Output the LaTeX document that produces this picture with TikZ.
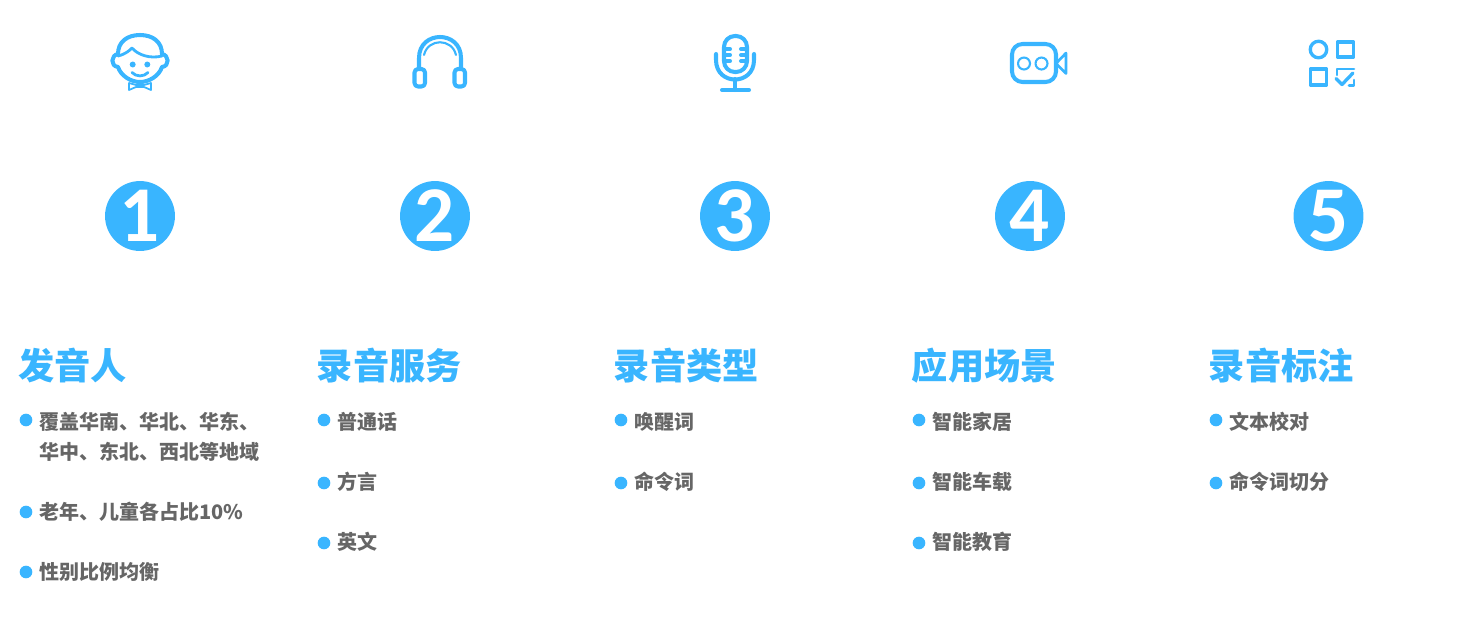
\documentclass[tikz,border=0pt]{standalone}
\usepackage{fontspec}
\newfontfamily\cjk{Noto Sans CJK SC}
\newfontfamily\numfont{Carlito}
\definecolor{skyblue}{HTML}{39B5FF}
\definecolor{itemgray}{HTML}{666666}
\tikzset{
  icon/.style={draw=skyblue,line width=2.3pt,line cap=round,line join=round},
  iconthin/.style={draw=skyblue,line width=1.2pt,line cap=round,line join=round},
  numdisc/.style={circle,fill=skyblue,text=white,minimum size=39.8pt,inner sep=0pt,font=\numfont\bfseries\fontsize{45}{45}\selectfont},
  headline/.style={anchor=west,inner sep=0pt,text=skyblue,font=\cjk\bfseries\fontsize{20.6}{24}\selectfont},
  itemtext/.style={anchor=west,inner sep=0pt,align=left,text=itemgray,font=\cjk\bfseries\fontsize{11.38}{17.07}\selectfont},
  itemdot/.style={fill=skyblue}
}
\begin{document}
\begin{tikzpicture}[x=0.02cm,y=-0.02cm]
\useasboundingbox (0,0) rectangle (1467,633);

% speaker
\draw[icon] (118,54) .. controls (118,42) and (127,35) .. (140,35) .. controls (153,35) and (162,42) .. (162,54);
\draw[icon] (118,54) .. controls (111,55) and (110,66) .. (118,67) .. controls (121,76) and (131,82) .. (140,82) .. controls (149,82) and (159,76) .. (162,67) .. controls (170,66) and (169,55) .. (162,54);
\draw[iconthin,line width=1.6pt] (118,56) .. controls (126,54) and (130,50) .. (132,48) .. controls (138,55) and (150,59) .. (162,56);
\fill[itemdot] (132.7,64.5) circle (1.7pt);
\fill[itemdot] (147.3,64.5) circle (1.7pt);
\draw[iconthin,line width=1.6pt] (132,72.5) .. controls (136,77) and (144,77) .. (148,72.5);
\draw[iconthin,line width=1pt] (129,83) -- (129,90) -- (136,87) -- (144,87) -- (151,90) -- (151,83) -- (144,85) -- (136,85) -- cycle;

% headphones
\draw[icon] (419,68) -- (419,58) .. controls (419,30) and (461,30) .. (461,58) -- (461,68);
\draw[iconthin] (424,55) .. controls (428,38) and (452,38) .. (456,55);
\draw[icon,rounded corners=2pt] (414.5,69) rectangle (425,86.5);
\draw[icon,rounded corners=2pt] (454.5,69) rectangle (465,86.5);

% microphone
\draw[icon,rounded corners=6.2pt] (724,36) rectangle (747,72);
\draw[icon] (724,49) -- (730,49);
\draw[icon] (724,55) -- (730,55);
\draw[icon] (724,61) -- (730,61);
\draw[icon] (741,49) -- (747,49);
\draw[icon] (741,55) -- (747,55);
\draw[icon] (741,61) -- (747,61);
\draw[icon] (716,54) -- (716,60) .. controls (716,86) and (754,86) .. (754,60) -- (754,54);
\draw[icon] (735,79) -- (735,90);
\draw[icon] (722,90) -- (749,90);

% camera
\draw[icon,rounded corners=6pt] (1012,44) rectangle (1056,82);
\draw[iconthin] (1024,63.5) circle (3.4pt);
\draw[iconthin] (1041.5,63.5) circle (3.4pt);
\draw[iconthin,line width=1.5pt] (1056,63.5) -- (1066,53) -- (1066,73.5) -- cycle;

% tags
\draw[icon,line width=1.9pt,line cap=butt] (1318.5,49.5) circle (4.7pt);
\draw[icon,line width=1.9pt,line cap=butt] (1337.5,42) rectangle (1353.5,57);
\draw[icon,line width=1.9pt,line cap=butt] (1310.5,69) rectangle (1326.5,85);
\draw[iconthin,line width=1.5pt] (1337,75) -- (1337,69) -- (1354,69);
\draw[iconthin,line width=1.5pt] (1354,80) -- (1354,85.5) -- (1349,85.5);
\draw[icon,line width=1.9pt] (1336,78.5) -- (1342,84.5) -- (1353,73);

\node[numdisc] (num1) at (140,216) {1};
\node[numdisc] (num2) at (435,216) {2};
\node[numdisc] (num3) at (735,216) {3};
\node[numdisc] (num4) at (1030,216) {4};
\node[numdisc] (num5) at (1328.5,216) {5};

\node[headline] (title1) at (18,366) {发音人};
\node[headline] (title2) at (316.5,366) {录音服务};
\node[headline] (title3) at (613.5,366) {录音类型};
\node[headline] (title4) at (911.5,366) {应用场景};
\node[headline] (title5) at (1208.5,366) {录音标注};

\fill[itemdot] (26,420) circle (3.6pt);
\fill[itemdot] (26,512) circle (3.6pt);
\fill[itemdot] (26,572) circle (3.6pt);
\node[itemtext] (speaker1) at (39,437) {覆盖华南、华北、华东、\\华中、东北、西北等地域};
\node[itemtext] (speaker2) at (39,512) {老年、儿童各占比10\%};
\node[itemtext] (speaker3) at (39,572) {性别比例均衡};

\fill[itemdot] (324,420) circle (3.6pt);
\fill[itemdot] (324,483) circle (3.6pt);
\fill[itemdot] (324,543) circle (3.6pt);
\node[itemtext] (service1) at (337,422) {普通话};
\node[itemtext] (service2) at (337,482) {方言};
\node[itemtext] (service3) at (337,542) {英文};

\fill[itemdot] (621,420) circle (3.6pt);
\fill[itemdot] (621,483) circle (3.6pt);
\node[itemtext] (type1) at (634,422) {唤醒词};
\node[itemtext] (type2) at (634,482) {命令词};

\fill[itemdot] (919,420) circle (3.6pt);
\fill[itemdot] (919,483) circle (3.6pt);
\fill[itemdot] (919,543) circle (3.6pt);
\node[itemtext] (scene1) at (932,422) {智能家居};
\node[itemtext] (scene2) at (932,482) {智能车载};
\node[itemtext] (scene3) at (932,542) {智能教育};

\fill[itemdot] (1216,420) circle (3.6pt);
\fill[itemdot] (1216,483) circle (3.6pt);
\node[itemtext] (label1) at (1229,422) {文本校对};
\node[itemtext] (label2) at (1229,482) {命令词切分};
\end{tikzpicture}
\end{document}
